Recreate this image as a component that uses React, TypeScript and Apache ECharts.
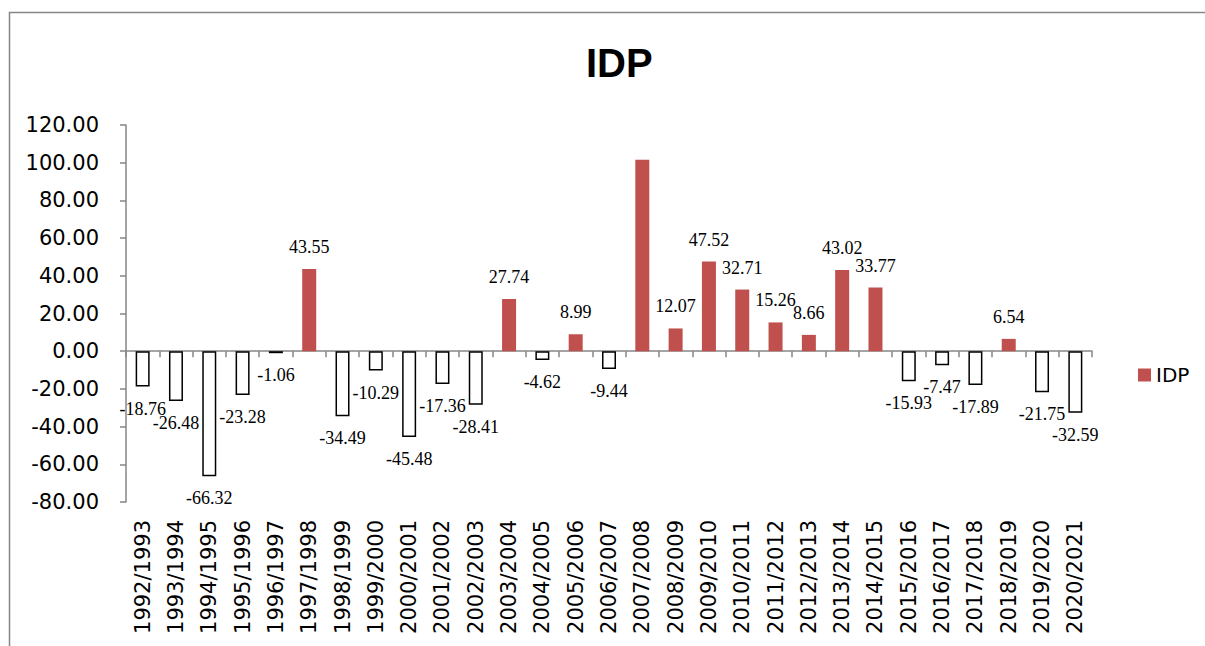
import React, { useEffect, useRef } from "react";
import * as echarts from "echarts";

const categories = [
  "1992/1993", "1993/1994", "1994/1995", "1995/1996", "1996/1997", "1997/1998",
  "1998/1999", "1999/2000", "2000/2001", "2001/2002", "2002/2003", "2003/2004",
  "2004/2005", "2005/2006", "2006/2007", "2007/2008", "2008/2009", "2009/2010",
  "2010/2011", "2011/2012", "2012/2013", "2013/2014", "2014/2015", "2015/2016",
  "2016/2017", "2017/2018", "2018/2019", "2019/2020", "2020/2021",
];

const idpValues = [
  -18.76, -26.48, -66.32, -23.28, -1.06, 43.55,
  -34.49, -10.29, -45.48, -17.36, -28.41, 27.74,
  -4.62, 8.99, -9.44, 101.5, 12.07, 47.52,
  32.71, 15.26, 8.66, 43.02, 33.77, -15.93,
  -7.47, -17.89, 6.54, -21.75, -32.59,
];

// categories whose value label is not shown in the reference
const hiddenLabels = ["2007/2008"];

const yTicks = { min: -80, max: 120, interval: 20 };

const RED = "#C0504D";
const GRAY = "#868686";

export default function App() {
  const ref = useRef<HTMLDivElement>(null);

  useEffect(() => {
    if (!ref.current) return;
    const chart = echarts.init(ref.current, undefined, { renderer: "svg" });

    const data = idpValues.map((v, i) => {
      const neg = v < 0;
      return {
        value: v,
        itemStyle: neg
          ? { color: "#ffffff", borderColor: "#000000", borderWidth: 1.5 }
          : { color: RED },
        label: {
          show: !hiddenLabels.includes(categories[i]),
          position: neg ? "bottom" : "top",
        },
      };
    });

    chart.setOption({
      animation: false,
      backgroundColor: "#ffffff",
      title: {
        text: "IDP",
        left: 581,
        top: 38,
        textStyle: {
          fontFamily: "Liberation Sans",
          fontWeight: "bold",
          fontSize: 40,
          color: "#000",
        },
      },
      graphic: [
        {
          type: "rect",
          shape: { x: 9.5, y: 12.5, width: 1400, height: 800 },
          style: { fill: "none", stroke: GRAY, lineWidth: 1.5 },
          silent: true,
          z: 100,
        },
      ],
      legend: {
        data: ["IDP"],
        left: 1133,
        top: 360,
        icon: "rect",
        itemWidth: 13,
        itemHeight: 13,
        itemGap: 8,
        textStyle: { fontFamily: "DejaVu Sans", fontSize: 20, color: "#000" },
      },
      grid: {
        left: 126,
        right: 113,
        top: 125,
        bottom: 144,
        containLabel: false,
        outerBoundsMode: "none",
      },
      xAxis: {
        type: "category",
        data: categories,
        axisLine: { onZero: true, lineStyle: { color: GRAY, width: 1.5 } },
        axisTick: { show: true, length: 6, lineStyle: { color: GRAY, width: 1.5 } },
        axisLabel: {
          rotate: 90,
          margin: 18,
          interval: 0,
          fontFamily: "DejaVu Sans",
          fontSize: 21,
          color: "#000",
        },
        splitLine: { show: false },
      },
      yAxis: {
        type: "value",
        min: yTicks.min,
        max: yTicks.max,
        interval: yTicks.interval,
        axisLine: { show: true, lineStyle: { color: GRAY, width: 1.5 } },
        axisTick: { show: true, length: 6, lineStyle: { color: GRAY, width: 1.5 } },
        axisLabel: {
          margin: 27,
          fontFamily: "DejaVu Sans",
          fontSize: 21,
          color: "#000",
          formatter: (v: number) => v.toFixed(2),
        },
        splitLine: { show: false },
      },
      series: [
        {
          name: "IDP",
          type: "bar",
          barWidth: 14,
          itemStyle: { color: RED },
          label: {
            show: true,
            distance: 13,
            fontFamily: "Liberation Serif",
            fontSize: 18,
            color: "#000",
            formatter: (p: any) => Number(p.value).toFixed(2),
          },
          data,
        },
      ],
    });

    return () => chart.dispose();
  }, []);

  return (
    <div
      ref={ref}
      style={{ position: "fixed", left: 0, top: 0, width: 1205, height: 646 }}
    />
  );
}
